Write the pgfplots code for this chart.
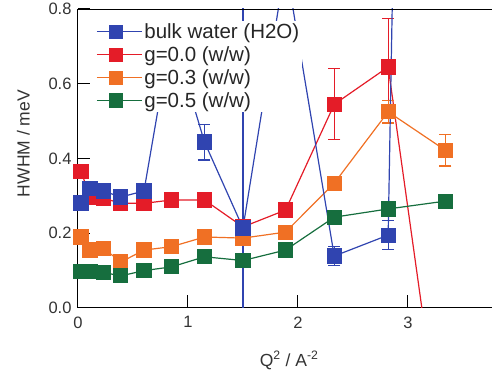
\documentclass[border=0pt]{standalone}
\usepackage{fontspec}
\setmainfont{Liberation Sans}
\usepackage{pgfplots}
\pgfplotsset{compat=1.18}
\definecolor{cblue}{RGB}{48,68,176}
\definecolor{cred}{RGB}{228,28,40}
\definecolor{corange}{RGB}{240,112,36}
\definecolor{cgreen}{RGB}{22,110,62}
\begin{document}
\begin{tikzpicture}
\begin{axis}[name=ax,
  scale only axis, width=414pt, height=299pt,
  xmin=0, xmax=3.764, ymin=0, ymax=0.8,
  axis x line=bottom, axis y line=left,
  axis line style={-, line width=1pt, black},
  tick align=inside, major tick length=12.5pt,
  tick style={line width=1pt, black},
  xtick={0,1,2,3}, ytick={0,0.2,0.4,0.6,0.8},
  /pgf/number format/assume math mode=true,
  ticklabel style={font=\fontsize{16.5}{18}\selectfont, text=black!80},
  yticklabel style={xshift=-3pt, /pgf/number format/.cd, fixed, fixed zerofill, precision=1},
  xticklabel style={yshift=-5pt},
  xlabel={Q\textsuperscript{2} / A\textsuperscript{-2}},
  ylabel={HWHM / meV},
  label style={font=\fontsize{17.5}{20}\selectfont, text=black!80},
  xlabel style={at={(axis description cs:0.51,-0.175)}, anchor=center},
  ylabel style={at={(axis description cs:-0.132,0.55)}, anchor=center},
  clip=true, clip marker paths=false,
  legend style={at={(axis description cs:0.041,0.962)}, anchor=north west,
    draw=none, fill=white, font=\fontsize{20.5}{22}\selectfont,
    inner sep=1pt, row sep=2.6pt, legend cell align=left, text=black!85},
  legend image code/.code={\draw[mark repeat=2,mark phase=2] plot coordinates {(0pt,0pt)(19pt,0pt)(38pt,0pt)}; \path (38pt,0pt) -- (45pt,0pt);},
  every axis plot/.append style={line width=1.2pt},
  error bars/error bar style={line width=1.1pt},
  error bars/error mark options={rotate=90, mark size=6pt, line width=1.1pt},
]
\addlegendimage{cblue, mark=square*, mark size=6.5pt, mark options={fill=cblue}}
\addlegendentry{bulk water (H2O)}
\addlegendimage{cred, mark=square*, mark size=6.5pt, mark options={fill=cred}}
\addlegendentry{g=0.0 (w/w)}
\addlegendimage{corange, mark=square*, mark size=6.5pt, mark options={fill=corange}}
\addlegendentry{g=0.3 (w/w)}
\addlegendimage{cgreen, mark=square*, mark size=6.5pt, mark options={fill=cgreen}}
\addlegendentry{g=0.5 (w/w)}

% g=0.0
\addplot+[forget plot, cred, mark=square*, mark size=7pt, mark options={fill=cred, draw=cred},
  error bars/.cd, y dir=both, y explicit] coordinates {
  (0.027,0.366) (0.11,0.297) (0.23,0.294) (0.39,0.280) (0.60,0.280)
  (0.85,0.289) (1.15,0.289) (1.50,0.217) (1.887,0.262)
  (2.33,0.545) +- (0,0.095) (2.82,0.645) +- (0,0.13) (3.34,-0.45)
};
% g=0.3
\addplot+[forget plot, corange, mark=square*, mark size=7pt, mark options={fill=corange, draw=corange},
  error bars/.cd, y dir=both, y explicit] coordinates {
  (0.027,0.190) (0.11,0.155) (0.23,0.160) (0.39,0.123) (0.60,0.155)
  (0.85,0.164) (1.15,0.190) (1.50,0.187) (1.887,0.203)
  (2.33,0.334) (2.82,0.525) +- (0,0.03) (3.34,0.422) +- (0,0.042)
};
% g=0.5
\addplot+[forget plot, cgreen, mark=square*, mark size=7pt, mark options={fill=cgreen, draw=cgreen}] coordinates {
  (0.027,0.097) (0.11,0.097) (0.23,0.095) (0.39,0.086) (0.60,0.100)
  (0.85,0.110) (1.15,0.137) (1.50,0.127) (1.887,0.155)
  (2.33,0.243) (2.82,0.265) (3.34,0.286)
};
% bulk water
\addplot+[forget plot, cblue, mark=square*, mark size=7pt, mark options={fill=cblue, draw=cblue},
  error bars/.cd, y dir=both, y explicit] coordinates {
  (0.027,0.281) (0.11,0.320) (0.23,0.313) (0.39,0.297) (0.60,0.313)
  (0.85,0.74) (1.15,0.444) +- (0,0.048) (1.50,0.214) += (0,0.7) -= (0,0.235)
  (1.887,0.92) (2.33,0.139) +- (0,0.026) (2.82,0.195) +- (0,0.038) (3.34,8.8)
};
\end{axis}
\draw[line width=1pt, black] (ax.north west) -- (ax.north east);
\pgfresetboundingbox
\path ([shift={(-78pt,-68pt)}]ax.south west) rectangle ([shift={(0pt,9pt)}]ax.north east);
\end{tikzpicture}
\end{document}
